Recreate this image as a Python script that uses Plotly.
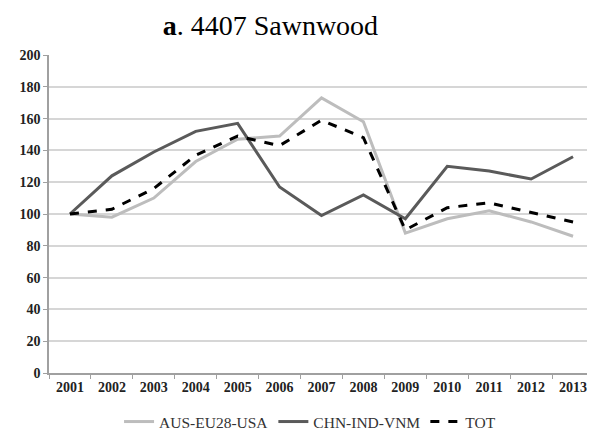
import plotly.graph_objects as go

years = ["2001", "2002", "2003", "2004", "2005", "2006", "2007", "2008", "2009", "2010", "2011", "2012", "2013"]
aus_eu_usa = [100, 98, 110, 133, 147, 149, 173, 158, 88, 97, 102, 95, 86]
chn_ind_vnm = [100, 124, 139, 152, 157, 117, 99, 112, 97, 130, 127, 122, 136]
tot = [100, 103, 116, 137, 149, 143, 159, 148, 90, 104, 107, 101, 95]

serif = "Liberation Serif"

fig = go.Figure()
fig.add_trace(go.Scatter(x=years, y=aus_eu_usa, mode="lines", name="AUS-EU28-USA",
                         line=dict(color="#bdbdbd", width=3)))
fig.add_trace(go.Scatter(x=years, y=chn_ind_vnm, mode="lines", name="CHN-IND-VNM",
                         line=dict(color="#5a5a5a", width=3)))
fig.add_trace(go.Scatter(x=years, y=tot, mode="lines", name="TOT",
                         line=dict(color="#000000", width=3, dash="dash")))

fig.update_layout(
    width=587, height=426,
    margin=dict(l=41, r=1, t=47, b=61, autoexpand=False),
    paper_bgcolor="white", plot_bgcolor="white",
    title=dict(text="<b>a</b>. 4407 Sawnwood", x=0.447, xanchor="center", y=0.96, yanchor="middle",
               font=dict(family=serif, size=28, color="black"), automargin=False),
    showlegend=True,
    legend=dict(orientation="h", x=0.479, xanchor="center", y=-0.154, yanchor="middle",
                font=dict(family=serif, size=15.5, color="#333"), itemwidth=30,
                traceorder="normal"),
    font=dict(family=serif, color="black"),
)
fig.update_xaxes(type="category", range=[-0.5, 12.5], tickson="boundaries", ticks="outside",
                 ticklen=4, tickcolor="#a0a0a0", showline=True, linecolor="#a0a0a0", linewidth=1.5,
                 showgrid=False, tickfont=dict(family=serif, size=14, color="#222"),
                 tickprefix="<b>", ticksuffix="</b>", automargin=False)
fig.update_yaxes(range=[0, 200], dtick=20, ticks="outside", ticklen=4, tickcolor="#a0a0a0",
                 showline=True, linecolor="#a0a0a0", linewidth=1.5,
                 gridcolor="#d6d6d6", gridwidth=1.5, zeroline=False,
                 tickfont=dict(family=serif, size=14, color="#222"),
                 tickprefix="<b>", ticksuffix="</b>", automargin=False)

fig.write_html("out.html")
